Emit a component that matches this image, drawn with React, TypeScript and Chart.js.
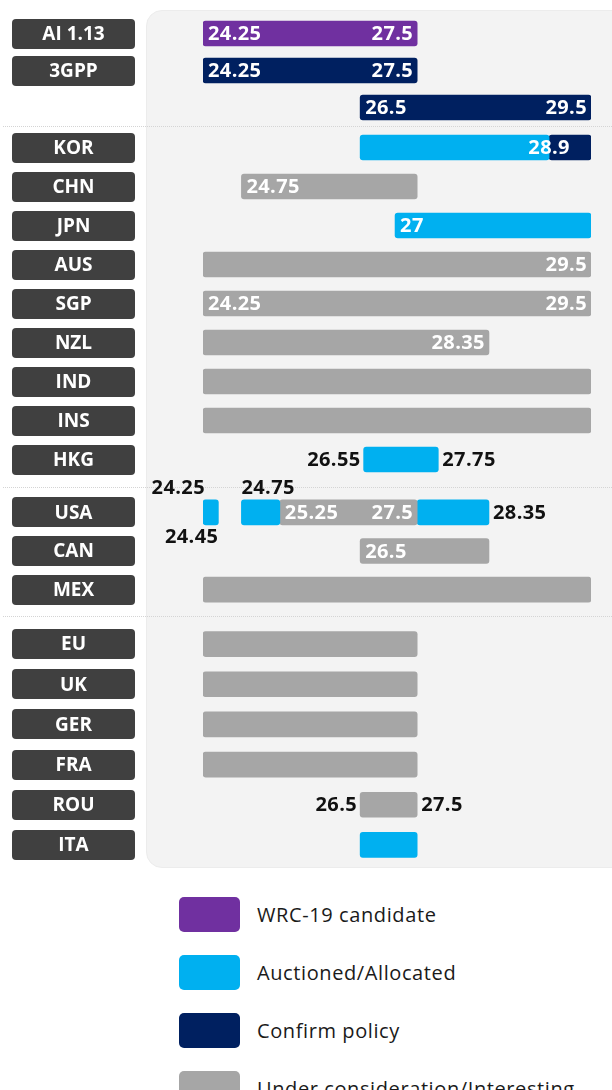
import React, { useEffect, useRef } from 'react';
import { Chart, registerables, LinearScale } from 'chart.js';

// ---------- DATA ----------
const categories = ["AI 1.13", "3GPP", "", "KOR", "CHN", "JPN", "AUS", "SGP", "NZL", "IND", "INS", "HKG", "USA", "CAN", "MEX", "EU", "UK", "GER", "FRA", "ROU", "ITA"];
const groupSizes = [3, 9, 3, 6];

const statusNames = ["WRC-19 candidate", "Auctioned/Allocated", "Confirm policy", "Under consideration/Interesting"];
const statusColors = ["#7030a0", "#00b0f0", "#002060", "#a6a6a6"];

// frequency segments (GHz)
const segRow = [0, 1, 2, 3, 3, 4, 5, 6, 7, 8, 9, 10, 11, 12, 12, 12, 12, 13, 14, 15, 16, 17, 18, 19, 20];
const segStart = [24.25, 24.25, 26.5, 26.5, 28.9, 24.75, 27, 24.25, 24.25, 24.25, 24.25, 24.25, 26.55, 24.25, 24.75, 25.25, 27.5, 26.5, 24.25, 24.25, 24.25, 24.25, 24.25, 26.5, 26.5];
const segEnd = [27.5, 27.5, 29.5, 28.9, 29.5, 27.5, 29.5, 29.5, 29.5, 28.35, 29.5, 29.5, 27.75, 24.45, 25.25, 27.5, 28.35, 28.35, 29.5, 27.5, 27.5, 27.5, 27.5, 27.5, 27.5];
const segStatus = [0, 2, 2, 1, 2, 3, 1, 3, 3, 3, 3, 3, 1, 1, 1, 3, 1, 3, 3, 3, 3, 3, 3, 3, 1];

// value tags
const tagRow = [0, 0, 1, 1, 2, 2, 3, 4, 5, 6, 7, 7, 8, 11, 11, 12, 12, 12, 12, 12, 12, 13, 19, 19];
const tagValue = [24.25, 27.5, 24.25, 27.5, 26.5, 29.5, 28.9, 24.75, 27, 29.5, 24.25, 29.5, 28.35, 26.55, 27.75, 24.25, 24.45, 24.75, 25.25, 27.5, 28.35, 26.5, 26.5, 27.5];
const tagPlace = ["inStart", "inEnd", "inStart", "inEnd", "inStart", "inEnd", "center", "inStart", "inStart", "inEnd", "inStart", "inEnd", "inEnd", "outStart", "outEnd", "aboveEnd", "belowEnd", "aboveStart", "inStart", "inEnd", "outEnd", "inStart", "outStart", "outEnd"];

// schematic (non-uniform) frequency axis: breakpoints and their fraction of the axis
const AXIS_MIN = 24.25;
const AXIS_MAX = 29.5;
const scaleBreaks = [24.25, 25.25, 26.5, 27, 27.5, 28.35, 28.9, 29.5];
const scaleStops = [0, 0.198, 0.405, 0.495, 0.552, 0.737, 0.892, 1];

// ---------- LAYOUT ----------
const groupTop = [15, 128, 493, 624];
const groupHeight = [111, 351, 116, 241];
const PAD = 30;
const separators = [126, 487, 616];

const FONT = '"Open Sans", "DejaVu Sans", sans-serif';

function toFraction(v: number): number {
  for (let i = 0; i < scaleBreaks.length - 1; i++) {
    const a = scaleBreaks[i], b = scaleBreaks[i + 1];
    if (v <= b || i === scaleBreaks.length - 2) {
      const t = (v - a) / (b - a);
      return scaleStops[i] + t * (scaleStops[i + 1] - scaleStops[i]);
    }
  }
  return 1;
}
function fromFraction(f: number): number {
  for (let i = 0; i < scaleStops.length - 1; i++) {
    const a = scaleStops[i], b = scaleStops[i + 1];
    if (f <= b || i === scaleStops.length - 2) {
      const t = (f - a) / (b - a);
      return scaleBreaks[i] + t * (scaleBreaks[i + 1] - scaleBreaks[i]);
    }
  }
  return AXIS_MAX;
}

class PiecewiseScale extends LinearScale {
  static id = 'piecewise';
  static defaults = (LinearScale as any).defaults;
  getPixelForValue(value: number) {
    return (this as any).getPixelForDecimal(toFraction(value));
  }
  getValueForPixel(pixel: number) {
    return fromFraction((this as any).getDecimalForPixel(pixel));
  }
}

Chart.register(...registerables, PiecewiseScale as any);

function roundRect(ctx: CanvasRenderingContext2D, x: number, y: number, w: number, h: number, r: number) {
  ctx.beginPath();
  ctx.moveTo(x + r, y);
  ctx.lineTo(x + w - r, y);
  ctx.quadraticCurveTo(x + w, y, x + w, y + r);
  ctx.lineTo(x + w, y + h - r);
  ctx.quadraticCurveTo(x + w, y + h, x + w - r, y + h);
  ctx.lineTo(x + r, y + h);
  ctx.quadraticCurveTo(x, y + h, x, y + h - r);
  ctx.lineTo(x, y + r);
  ctx.quadraticCurveTo(x, y, x + r, y);
  ctx.closePath();
}

function makeOverlay(offset: number, count: number) {
  return {
    id: 'overlay' + offset,
    afterDatasetsDraw(chart: any) {
      const ctx: any = chart.ctx;
      const xs = chart.scales.x;
      const ys = chart.scales.y;
      ctx.save();
      // category label boxes
      for (let i = 0; i < count; i++) {
        const label = chart.data.labels[i];
        if (!label) continue;
        const yc = ys.getPixelForValue(i);
        ctx.fillStyle = '#404040';
        roundRect(ctx, 12, Math.round(yc - 15), 123, 30, 4);
        ctx.fill();
        ctx.fillStyle = '#ffffff';
        ctx.font = `700 19px ${FONT}`;
        ctx.textAlign = 'center';
        ctx.textBaseline = 'middle';
        ctx.fillText(label, 73.5, yc + 1);
      }
      // value tags
      ctx.font = `700 20px ${FONT}`;
      ctx.textBaseline = 'middle';
      try { ctx.letterSpacing = '0.4px'; } catch (e) { /* ignore */ }
      for (let k = 0; k < tagRow.length; k++) {
        const r = tagRow[k] - offset;
        if (r < 0 || r >= count) continue;
        const yc = ys.getPixelForValue(r);
        const xp = xs.getPixelForValue(tagValue[k]);
        const p = tagPlace[k];
        let x = xp, y = yc + 1, align: CanvasTextAlign = 'left', color = '#ffffff';
        if (p === 'inStart') { x = xp + 5; align = 'left'; }
        else if (p === 'inEnd') { x = xp - 4; align = 'right'; }
        else if (p === 'center') { x = xp; align = 'center'; }
        else if (p === 'outStart') { x = xp - 3; align = 'right'; color = '#111111'; }
        else if (p === 'outEnd') { x = xp + 4; align = 'left'; color = '#111111'; }
        else if (p === 'aboveEnd') { x = xp + 2; y = yc - 24; align = 'right'; color = '#111111'; }
        else if (p === 'belowEnd') { x = xp; y = yc + 25; align = 'right'; color = '#111111'; }
        else if (p === 'aboveStart') { x = xp; y = yc - 24; align = 'left'; color = '#111111'; }
        ctx.fillStyle = color;
        ctx.textAlign = align;
        ctx.fillText(String(tagValue[k]), x, y);
      }
      ctx.restore();
    },
  };
}

function GroupChart({ index }: { index: number }) {
  const ref = useRef<HTMLCanvasElement | null>(null);
  const offset = groupSizes.slice(0, index).reduce((a, b) => a + b, 0);
  const count = groupSizes[index];
  const h = groupHeight[index] + PAD * 2;

  useEffect(() => {
    if (!ref.current) return;
    const labels = categories.slice(offset, offset + count);
    const datasets: any[] = [];
    for (let s = 0; s < segRow.length; s++) {
      const r = segRow[s] - offset;
      if (r < 0 || r >= count) continue;
      datasets.push({
        label: statusNames[segStatus[s]],
        data: labels.map((_, i) => (i === r ? [segStart[s], segEnd[s]] : null)),
        backgroundColor: statusColors[segStatus[s]],
        borderWidth: 0,
        borderRadius: 3,
        borderSkipped: false,
        barThickness: 25,
        grouped: false,
      });
    }
    const chart = new Chart(ref.current, {
      type: 'bar',
      data: { labels, datasets },
      options: {
        indexAxis: 'y',
        animation: false,
        responsive: false,
        maintainAspectRatio: false,
        layout: { padding: { left: 203, right: 21, top: PAD, bottom: PAD } },
        scales: {
          x: { type: 'piecewise' as any, min: AXIS_MIN, max: AXIS_MAX, display: false },
          y: { type: 'category', display: false, offset: true },
        },
        plugins: { legend: { display: false }, tooltip: { enabled: false } },
      },
      plugins: [makeOverlay(offset, count)],
    } as any);
    return () => chart.destroy();
  }, []);

  return (
    <canvas
      ref={ref}
      width={612}
      height={h}
      style={{ position: 'absolute', left: 0, top: groupTop[index] - PAD, width: 612, height: h }}
    />
  );
}

export default function App() {
  return (
    <div style={{ position: 'absolute', left: 0, top: 0, width: 612, height: 1090, overflow: 'hidden', background: '#ffffff', fontFamily: FONT }}>
      <div style={{ position: 'absolute', left: 146, top: 10, width: 520, height: 858, background: '#f3f3f3', borderRadius: 16, border: '1px solid #ececec', boxSizing: 'border-box' }} />
      {separators.map((y) => (
        <div key={y} style={{ position: 'absolute', left: 3, top: y, width: 609, height: 0, borderTop: '1px dotted #d4d4d4' }} />
      ))}
      {groupSizes.map((_, i) => (
        <GroupChart key={i} index={i} />
      ))}
      {statusNames.map((name, i) => (
        <div key={name} style={{ position: 'absolute', left: 179, top: 897 + 58 * i, height: 35, display: 'flex', alignItems: 'center' }}>
          <div style={{ width: 61, height: 35, borderRadius: 5, background: statusColors[i] }} />
          <div style={{ marginLeft: 17, fontSize: 20, letterSpacing: 0.6, color: '#1a1a1a', whiteSpace: 'nowrap', fontFamily: FONT }}>{name}</div>
        </div>
      ))}
    </div>
  );
}
